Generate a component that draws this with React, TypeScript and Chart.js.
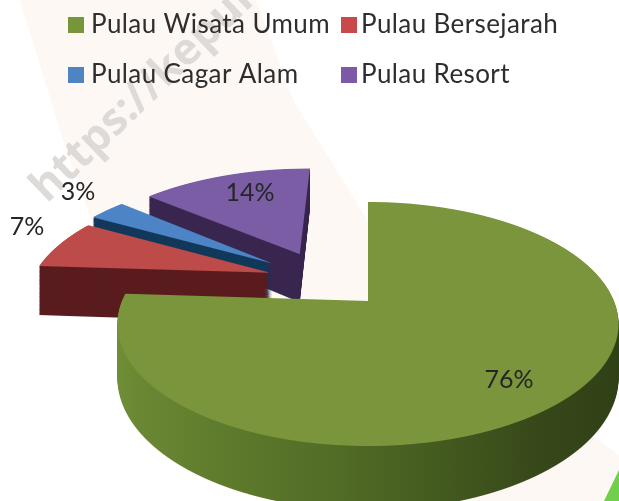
import React, { useEffect, useRef } from "react";
import { Chart, registerables, ArcElement } from "chart.js";

Chart.register(...registerables);

const categories = ["Pulau Wisata Umum", "Pulau Bersejarah", "Pulau Cagar Alam", "Pulau Resort"];
const shares = [76, 7, 3, 14];
const topColors = ["#7a953b", "#bd4b49", "#4c84c6", "#7a5da5"];
const sideColors = ["#55702a", "#5a1c1e", "#12395a", "#3a2750"];
const swatchColors = ["#76963a", "#c8494a", "#4f84c4", "#7d58a8"];

// Explosion of every slice on the pie plane, in radii
const explodeU = [0, -0.418, -0.415, -0.3];
const explodeV = [0, -0.252, -0.34, -0.43];
// Label anchors on the page
const labelX = [509, 27, 78, 250];
const labelY = [380, 227, 192, 193];
// Paint order: back to front
const paintOrder = [3, 2, 1, 0];

// Perspective of the pie plane
const X0 = 368;
const Y0 = 301;
const A = 246;
const B = 117.7;
const K = -0.1885;
const DEPTH = 52;

const FONT = "Lato, 'Open Sans', sans-serif";

function drawSlice(ctx: any, arc: any, index: number, height: number, fill: any) {
  const R = arc.outerRadius;
  const proxy: any = Object.create(arc);
  proxy.options = {
    backgroundColor: fill,
    borderColor: fill,
    borderWidth: 0,
    offset: 0,
    spacing: 0,
    circular: true,
    borderAlign: "center",
    borderRadius: 0,
    borderJoinStyle: "round",
  };
  for (let sy = 0; sy < 501; sy++) {
    const t = sy + 0.5 - Y0;
    const v = (t - height) / (B - K * t);
    const w = 1 + K * v;
    if (w <= 0.05 || Math.abs(v - explodeV[index]) > 1.03) continue;
    const xs = A / (w * R);
    const ys = (B - K * height) / (w * w * R);
    ctx.save();
    ctx.beginPath();
    ctx.rect(0, sy, 619, 1);
    ctx.clip();
    ctx.setTransform(xs, 0, 0, ys, X0 - xs * arc.x, sy + 0.5 - ys * (arc.y + v * R));
    ctx.translate(explodeU[index] * R, explodeV[index] * R);
    ArcElement.prototype.draw.call(proxy, ctx);
    ctx.restore();
  }
}

const scenery = {
  id: "scenery",
  beforeDraw(chart: any) {
    const ctx = chart.ctx;
    ctx.save();
    ctx.fillStyle = "#ffffff";
    ctx.fillRect(0, 0, 619, 501);
    ctx.fillStyle = "#fdf8f4";
    ctx.beginPath();
    [[20, 0], [256, 0], [293, 100], [363, 213], [420, 310], [619, 455], [619, 501], [400, 501], [130, 330], [63, 140]].forEach(
      ([x, y], i) => (i ? ctx.lineTo(x, y) : ctx.moveTo(x, y))
    );
    ctx.closePath();
    ctx.fill();
    ctx.fillStyle = "#72cf4c";
    ctx.beginPath();
    ctx.moveTo(619, 470);
    ctx.lineTo(619, 501);
    ctx.lineTo(604, 501);
    ctx.closePath();
    ctx.fill();
    ctx.translate(47, 204);
    ctx.rotate((-44 * Math.PI) / 180);
    ctx.font = "bold 44px 'Open Sans', sans-serif";
    ctx.fillStyle = "#dedad8";
    ctx.textBaseline = "alphabetic";
    ctx.fillText("https://kepul", 0, 0);
    ctx.restore();
  },
};

const pie3d = {
  id: "pie3d",
  beforeDatasetsDraw(chart: any) {
    const ctx = chart.ctx;
    const arcs = chart.getDatasetMeta(0).data;
    paintOrder.forEach((i) => {
      const arc = arcs[i];
      let side: any = sideColors[i];
      if (i === 0) {
        side = ctx.createLinearGradient(arc.x - arc.outerRadius, 0, arc.x + arc.outerRadius, 0);
        side.addColorStop(0, "#708f37");
        side.addColorStop(0.45, "#516c25");
        side.addColorStop(0.8, "#364719");
        side.addColorStop(1, "#2f3f16");
      }
      for (let h = DEPTH; h > 0; h -= 1) drawSlice(ctx, arc, i, h, side);
      drawSlice(ctx, arc, i, 0, topColors[i]);
    });
    return false;
  },
  afterDraw(chart: any) {
    const ctx = chart.ctx;
    ctx.save();
    ctx.textAlign = "center";
    ctx.textBaseline = "middle";
    ctx.fillStyle = "#262626";
    ctx.font = `25px ${FONT}`;
    shares.forEach((s, i) => ctx.fillText(`${s}%`, labelX[i], labelY[i]));
    ctx.restore();
  },
};

const legend2x2 = {
  id: "legend2x2",
  afterDraw(chart: any) {
    const ctx = chart.ctx;
    const labels = chart.data.labels;
    ctx.save();
    ctx.font = `26px ${FONT}`;
    (ctx as any).letterSpacing = "0.4px";
    ctx.textAlign = "left";
    ctx.textBaseline = "middle";
    labels.forEach((label: string, i: number) => {
      const col = i % 2;
      const row = Math.floor(i / 2);
      const x = col ? 341 : 68;
      const y = row ? 75 : 25;
      ctx.fillStyle = swatchColors[i];
      ctx.fillRect(x, y - 8, 16, 16);
      ctx.fillStyle = "#2e2e2e";
      ctx.fillText(label, col ? 361 : 91, y);
    });
    ctx.restore();
  },
};

export default function App() {
  const ref = useRef<HTMLCanvasElement>(null);
  useEffect(() => {
    const chart = new Chart(ref.current as HTMLCanvasElement, {
      type: "pie",
      data: {
        labels: categories,
        datasets: [{ data: shares, backgroundColor: topColors, borderWidth: 0 }],
      },
      options: {
        responsive: false,
        animation: false,
        plugins: { legend: { display: false }, tooltip: { enabled: false } },
      },
      plugins: [scenery, pie3d, legend2x2],
    });
    return () => chart.destroy();
  }, []);
  return (
    <div style={{ position: "fixed", left: 0, top: 0, width: 619, height: 501, overflow: "hidden", background: "#fff" }}>
      <canvas ref={ref} width={619} height={501} style={{ display: "block", filter: "blur(0.6px)" }} />
    </div>
  );
}
